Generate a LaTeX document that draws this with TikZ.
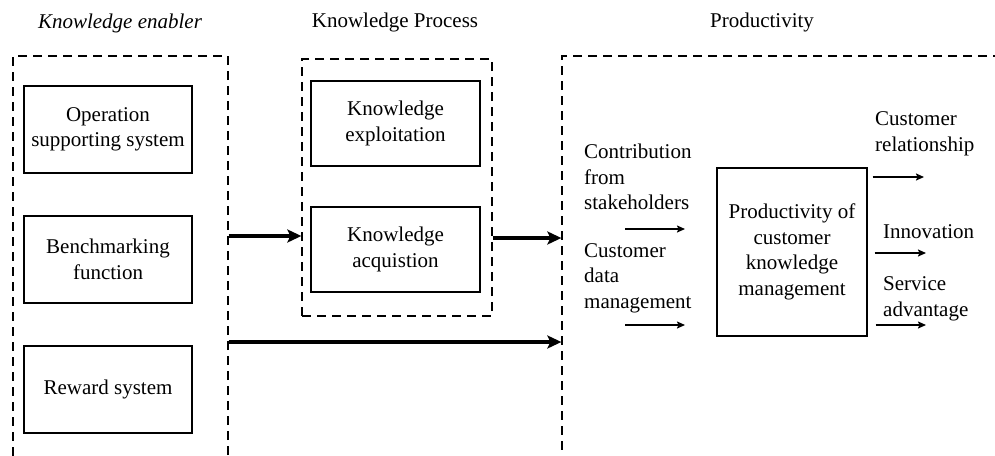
\documentclass[tikz,border=0pt]{standalone}
\usepackage{fontspec}
\setmainfont{Liberation Serif}
\usetikzlibrary{arrows.meta}

\tikzset{
  kasten/.style={draw, line width=1.2pt, minimum width=168pt, minimum height=87pt, align=center, inner sep=2pt},
  bereich/.style={draw, line width=1.3pt, dash pattern=on 9pt off 6pt, minimum width=#1},
  dickpfeil/.style={line width=4pt, -{Stealth[length=14pt,width=13pt,inset=3pt]}},
  duennpfeil/.style={line width=1.8pt, -{Stealth[length=8pt,width=7pt,inset=1.5pt]}},
  beschr/.style={align=left, anchor=west, inner sep=0pt},
}

\begin{document}
\begin{tikzpicture}[x=1pt, y=-1pt, font=\fontsize{21}{25.5}\selectfont]
    \clip (0,0) rectangle (995,455);

    % Ueberschriften
    \node (tEnabler) at (120,23) {\itshape Knowledge enabler};
    \node (tProcess) at (395,22) {Knowledge Process};
    \node (tProd) at (762,22) {Productivity};

    % Bereiche (gestrichelt)
    \node[bereich=215pt, minimum height=424pt] (enabler) at (120.5,268) {};
    \node[bereich=190pt, minimum height=257pt] (process) at (397,187.5) {};
    \node[bereich=458pt, minimum height=424pt] (prod) at (791,268) {};

    % Knowledge enabler
    \node[kasten] (ops) at (108,129.5) {Operation\\supporting system};
    \node[kasten] (bench) at (108,259.5) {Benchmarking\\function};
    \node[kasten] (reward) at (108,389.5) {Reward system};

    % Knowledge Process
    \node[kasten, minimum width=169pt, minimum height=85pt] (exploit) at (395.5,123.5) {Knowledge\\exploitation};
    \node[kasten, minimum width=169pt, minimum height=85pt] (acqui) at (395.5,249.5) {Knowledge\\acquistion};

    % dicke Pfeile zwischen den Bereichen
    \draw[dickpfeil] (enabler.east |- 0,236) -- (process.west |- 0,236);
    \draw[dickpfeil] (process.east |- 0,238) -- (prod.west |- 0,238);
    \draw[dickpfeil] (enabler.east |- 0,342) -- (prod.west |- 0,342);

    % Productivity: Kasten in der Mitte
    \node[kasten, minimum width=150pt, minimum height=168pt] (ckm) at (792,252) {Productivity of\\customer\\knowledge\\management};

    % Eingaenge
    \node[beschr] (contrib) at (584,177) {Contribution\\from\\stakeholders};
    \node[beschr] (cdata) at (584,278) {Customer\\data\\management};
    \coordinate (in1s) at (625,229);
    \coordinate (in1e) at (685,229);
    \coordinate (in2s) at (625,325);
    \coordinate (in2e) at (685,325);
    \draw[duennpfeil] (in1s) -- (in1e);
    \draw[duennpfeil] (in2s) -- (in2e);

    % Ausgaenge
    \node[beschr] (rel) at (875,134) {Customer\\relationship};
    \node[beschr] (innov) at (883,232) {Innovation};
    \node[beschr] (serv) at (883,299) {Service\\advantage};
    \coordinate (out1) at (924,177);
    \coordinate (out2) at (926,253);
    \coordinate (out3) at (926,325);
    \draw[duennpfeil] (ckm.east |- out1) ++(5,0) -- (out1);
    \draw[duennpfeil] (ckm.east |- out2) ++(7,0) -- (out2);
    \draw[duennpfeil] (ckm.east |- out3) ++(8,0) -- (out3);
\end{tikzpicture}
\end{document}
